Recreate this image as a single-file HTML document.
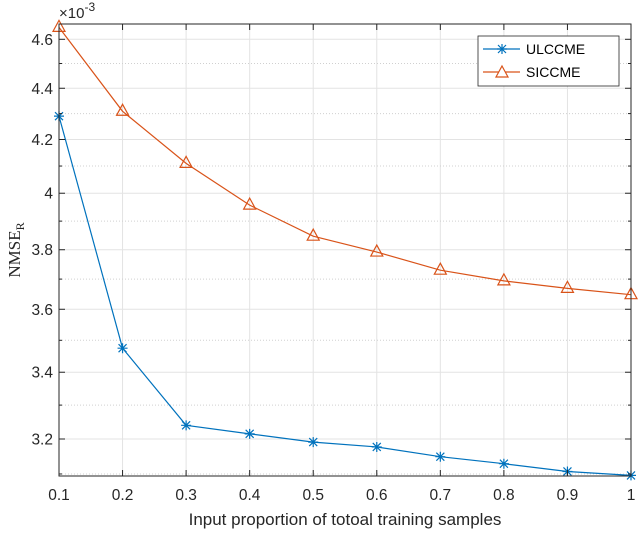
<!DOCTYPE html>
<html><head><meta charset="utf-8"><style>
body{margin:0;background:#fff}
svg{font-family:"Liberation Sans",sans-serif}
</style></head><body>
<svg id="chart" width="640" height="533" xmlns="http://www.w3.org/2000/svg">
<g id="grid"></g>
<g id="series"></g>
<g id="axes"></g>
<text x="59" y="18" font-size="15" fill="#262626">×10<tspan dy="-7" font-size="12">-3</tspan></text>
<text x="345" y="525" font-size="17" text-anchor="middle" fill="#262626">Input proportion of totoal training samples</text>
<text transform="translate(20,250) rotate(-90)" font-size="17" text-anchor="middle" fill="#262626" font-family="Liberation Serif,serif">NMSE<tspan dy="4" font-size="12">R</tspan></text>
<g>
<rect x="478" y="36" width="141" height="50" fill="#fff" stroke="#262626" stroke-width="0.8"/>
<line x1="483" y1="49" x2="520" y2="49" stroke="#0072BD" stroke-width="1.2"/>
<path d="M497,49H507M502,44V54M498,45L506,53M498,53L506,45" stroke="#0072BD" stroke-width="1.2"/>
<text x="526" y="54" font-size="14" fill="#000">ULCCME</text>
<line x1="483" y1="72" x2="520" y2="72" stroke="#D95319" stroke-width="1.2"/>
<polygon points="502,66 508,77 496,77" fill="#fff" stroke="#D95319" stroke-width="1.2"/>
<text x="526" y="77" font-size="14" fill="#000">SICCME</text>
</g>
</svg>
<script>
const xs=[0.1,0.2,0.3,0.4,0.5,0.6,0.7,0.8,0.9,1.0];
const ulccme=[4.29,3.475,3.24,3.215,3.191,3.177,3.149,3.129,3.107,3.096];
const siccme=[4.65,4.309,4.11,3.957,3.847,3.792,3.73,3.694,3.669,3.648];
const yTicks=[3.2,3.4,3.6,3.8,4,4.2,4.4,4.6];
const yMinor=[3.1,3.3,3.5,3.7,3.9,4.1,4.3,4.5];
const xTicks=[0.1,0.2,0.3,0.4,0.5,0.6,0.7,0.8,0.9,1];
const L=59,R=631,T=24,B=476;
const X=v=>L+(v-0.1)/0.9*(R-L);
const Y=v=>439-(Math.log10(v)-Math.log10(3.2))*2536;
const NS="http://www.w3.org/2000/svg";
function mk(p,t,a){const e=document.createElementNS(NS,t);for(const k in a)e.setAttribute(k,a[k]);p.appendChild(e);return e;}
const grid=document.getElementById('grid'),axes=document.getElementById('axes'),ser=document.getElementById('series');
mk(grid,'rect',{x:L,y:T,width:R-L,height:B-T,fill:'#fff'});
xTicks.forEach(v=>{const l=mk(grid,'line',{x1:X(v),x2:X(v),y1:T,y2:B,stroke:'#e3e3e3','stroke-width':1});


const t=mk(axes,'text',{x:X(v),y:B+24,'font-size':15.5,'text-anchor':'middle',fill:'#262626'});t.textContent=String(v);


mk(axes,'line',{x1:X(v),x2:X(v),y1:B,y2:B-6,stroke:'#262626'});mk(axes,'line',{x1:X(v),x2:X(v),y1:T,y2:T+6,stroke:'#262626'});});
yMinor.forEach(v=>{const l=mk(grid,'line',{x1:L,x2:R,y1:Y(v),y2:Y(v),stroke:'#d0d0d0','stroke-dasharray':'1,2'});


mk(axes,'line',{x1:L,x2:L+3,y1:Y(v),y2:Y(v),stroke:'#262626'});mk(axes,'line',{x1:R,x2:R-3,y1:Y(v),y2:Y(v),stroke:'#262626'});});
yTicks.forEach(v=>{const l=mk(grid,'line',{x1:L,x2:R,y1:Y(v),y2:Y(v),stroke:'#e3e3e3'});


const t=mk(axes,'text',{x:L-6,y:Y(v)+5.5,'font-size':15.5,'text-anchor':'end',fill:'#262626'});t.textContent=String(v);


mk(axes,'line',{x1:L,x2:L+6,y1:Y(v),y2:Y(v),stroke:'#262626'});mk(axes,'line',{x1:R,x2:R-6,y1:Y(v),y2:Y(v),stroke:'#262626'});});
mk(axes,'rect',{x:L,y:T,width:R-L,height:B-T,fill:'none',stroke:'#262626','stroke-width':1});
function draw(vals,col,tri,name){
 const pl=mk(ser,'polyline',{points:vals.map((v,i)=>X(xs[i])+','+Y(v)).join(' '),fill:'none',stroke:col,'stroke-width':1.2});
 
 
 vals.forEach((v,i)=>{const x=X(xs[i]),y=Y(v);let m;
  if(tri){m=mk(ser,'polygon',{points:`${x},${y-7} ${x+6},${y+4} ${x-6},${y+4}`,fill:'none',stroke:col,'stroke-width':1.2});}
  else{m=mk(ser,'path',{d:`M${x-5},${y}H${x+5}M${x},${y-5}V${y+5}M${x-4},${y-4}L${x+4},${y+4}M${x-4},${y+4}L${x+4},${y-4}`,stroke:col,'stroke-width':1.2});}
  
  });
}
draw(ulccme,'#0072BD',false,'ulccme');
draw(siccme,'#D95319',true,'siccme');
</script>
</body></html>
